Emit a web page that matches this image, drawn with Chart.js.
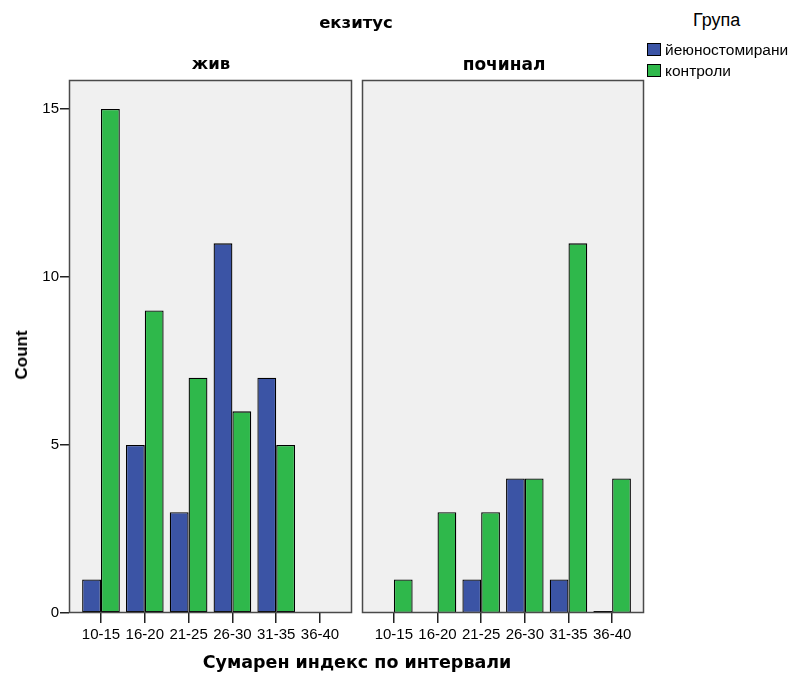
<!DOCTYPE html>
<html>
<head>
<meta charset="utf-8">
<script src="https://cdn.jsdelivr.net/npm/chart.js@4"></script>
<style>
  html, body { margin: 0; padding: 0; background: #fff; }
  #wrap { position: relative; width: 792px; height: 675px; overflow: hidden; font-family: "Liberation Sans", Arial, sans-serif; }
  canvas { position: absolute; top: 0; }
  .txt { position: absolute; white-space: nowrap; color: #000; z-index: 2; }
  .head { font-family: "DejaVu Sans", sans-serif; font-weight: bold; }
  .sw { display: inline-block; width: 12px; height: 11px; border: 1px solid #000; vertical-align: -1px; margin-right: 4px; }
</style>
</head>
<body>
<div id="wrap">
  <canvas id="left" width="356" height="675" style="left:0;width:356px;height:675px"></canvas>
  <canvas id="right" width="290" height="675" style="left:358px;width:290px;height:675px"></canvas>

  <div class="txt head" style="left:356px;top:13px;font-size:16.5px;transform:translateX(-50%);">екзитус</div>
  <div class="txt head" style="left:211px;top:54px;font-size:16.5px;transform:translateX(-50%);">жив</div>
  <div class="txt head" style="left:504px;top:54px;font-size:17px;transform:translateX(-50%);">починал</div>
  <div class="txt" style="left:22px;top:355px;font-size:17px;font-weight:bold;transform:translate(-50%,-50%) rotate(-90deg);">Count</div>
  <div class="txt" style="left:693px;top:10px;font-size:18px;">Група</div>
  <div class="txt" id="legend" style="left:647px;top:39px;font-size:15.5px;line-height:21px;"></div>
  <div class="txt head" style="left:357px;top:652px;font-size:17.5px;transform:translateX(-50%);">Сумарен индекс по интервали</div>
</div>
<script>
// Interval categories on the x axis
const categories = ["10-15", "16-20", "21-25", "26-30", "31-35", "36-40"];

// Group names and their fill colours
const groups = ["йеюностомирани", "контроли"];
const groupColors = ["#3b54a5", "#2fb84b"];

// Counts per interval, panel "жив"
const alive_jejuno = [1, 5, 3, 11, 7, null];
const alive_control = [15, 9, 7, 6, 5, null];

// Counts per interval, panel "починал"
const dead_jejuno = [null, null, 1, 4, 1, 0];
const dead_control = [1, 3, 3, 4, 11, 4];

const yTicks = [0, 5, 10, 15];
const yMax = 15.86;

const legendEl = document.getElementById('legend');
legendEl.innerHTML = groups.map((g, i) =>
  `<div><span class="sw" style="background:${groupColors[i]}"></span>${g}</div>`).join('');

const toPoints = arr => arr.map((v, i) => ({ x: i, y: v }));

// Grey panel box with a dark frame behind the bars
const panelBox = {
  id: 'panelBox',
  beforeDatasetsDraw(chart) {
    const a = chart.chartArea, c = chart.ctx;
    c.save();
    c.fillStyle = '#f0f0f0';
    c.fillRect(a.left, a.top, a.right - a.left, a.bottom - a.top);
    c.restore();
  },
  afterDatasetsDraw(chart) {
    const a = chart.chartArea, c = chart.ctx;
    c.save();
    c.strokeStyle = '#4a4a4a';
    c.lineWidth = 1.5;
    c.strokeRect(a.left + 0.5, a.top + 0.5, a.right - a.left - 1, a.bottom - a.top - 1);
    c.restore();
  }
};

function makePanel(id, jej, ctl, showY, padding) {
  return new Chart(document.getElementById(id), {
    type: 'bar',
    data: {
      datasets: [
        { label: groups[0], data: toPoints(jej), backgroundColor: groupColors[0], borderColor: '#000',
          borderWidth: 1.3, borderSkipped: false, minBarLength: 2 },
        { label: groups[1], data: toPoints(ctl), backgroundColor: groupColors[1], borderColor: '#000',
          borderWidth: 1.3, borderSkipped: false }
      ]
    },
    options: {
      responsive: false,
      animation: false,
      devicePixelRatio: 1,
      layout: { padding: padding },
      categoryPercentage: 0.86,
      barPercentage: 1.0,
      plugins: { legend: { display: false }, tooltip: { enabled: false } },
      scales: {
        x: {
          type: 'linear',
          min: -0.73,
          max: 5.73,
          offset: false,
          afterBuildTicks: s => { s.ticks = categories.map((_, i) => ({ value: i })); },
          afterFit: s => { s.height = 62; },
          ticks: {
            autoSkip: false, maxRotation: 0,
            callback: v => categories[v],
            color: '#000', font: { family: 'Liberation Sans', size: 15 }, padding: 3
          },
          grid: { offset: false, drawOnChartArea: false, tickLength: 10, color: '#222', lineWidth: 1.5 },
          border: { display: false }
        },
        y: {
          display: showY,
          min: 0,
          max: yMax,
          afterBuildTicks: s => { s.ticks = yTicks.map(v => ({ value: v })); },
          afterFit: s => { if (showY) s.width = 69; },
          ticks: { color: '#000', font: { family: 'Liberation Sans', size: 15 }, padding: 1 },
          grid: { drawOnChartArea: false, tickLength: 9, color: '#222', lineWidth: 1.5 },
          border: { display: false }
        }
      }
    },
    plugins: [panelBox]
  });
}

makePanel('left', alive_jejuno, alive_control, true, { top: 80, right: 4, left: 0, bottom: 0 });
makePanel('right', dead_jejuno, dead_control, false, { top: 80, right: 4, left: 4, bottom: 0 });
</script>
</body>
</html>
